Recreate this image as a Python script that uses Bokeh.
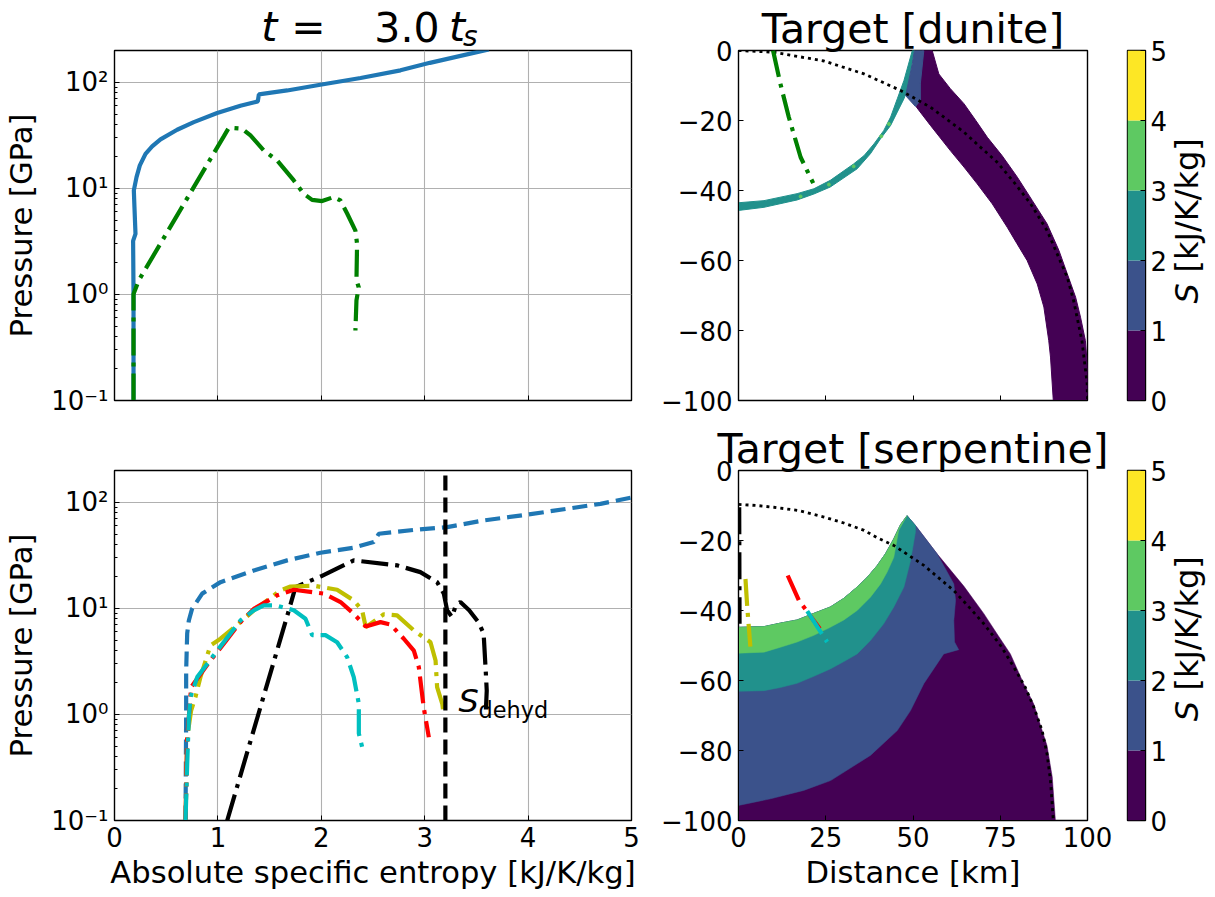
from math import pi
from bokeh.embed import file_html
from bokeh.layouts import column, row
from bokeh.models import FixedTicker, Label
from bokeh.plotting import figure
from bokeh.resources import INLINE

# entropy / pressure paths
dunite_pk_s = [0.184, 0.184, 0.18, 0.203, 0.193, 0.187, 0.213, 0.245, 0.30, 0.364, 0.445, 0.606, 0.767, 0.993, 1.218, 1.386, 1.396, 1.67, 1.99, 2.38, 2.766, 3.05, 3.62]
dunite_pk_p = [0.1, 1.01, 3.2, 3.73, 6.67, 9.6, 12.8, 16.5, 21.2, 24.9, 29, 35.8, 42.2, 51.4, 60.3, 66.2, 77, 84, 95, 110, 130, 153, 205]
dunite_tr_s = [0.184, 0.184, 0.235, 1.057, 1.106, 1.235, 1.315, 1.444, 1.573, 1.734, 1.83, 1.911, 2.008, 2.12, 2.185, 2.25, 2.33, 2.346, 2.34, 2.362, 2.34, 2.33]
dunite_tr_p = [0.1, 1.01, 1.36, 31, 37.4, 36.6, 31.6, 22.8, 18.4, 11.9, 8.9, 7.8, 7.6, 8.3, 7.7, 5.8, 4.0, 3.0, 1.36, 1.17, 0.88, 0.457]

serp_pk_s = [0.687, 0.693, 0.693, 0.703, 0.719, 0.75, 0.848, 1.025, 1.347, 1.67, 1.992, 2.314, 2.508, 2.556, 2.895, 3.217, 3.57, 3.99, 4.70, 5.0]
serp_pk_p = [0.1, 1.0, 2.6, 5.8, 7.7, 9.9, 13.8, 17.7, 22.8, 28.4, 33.5, 37.4, 42.3, 50.6, 55, 58.5, 67.6, 76.6, 97, 111]
black_s = [1.09, 1.686, 1.75, 1.992, 2.314, 2.733, 2.958, 3.12, 3.185, 3.217, 3.265, 3.3, 3.345, 3.43, 3.52, 3.57, 3.59, 3.6, 3.59]
black_p = [0.1, 9.6, 15.9, 20, 28.4, 25.5, 22, 17.7, 13.8, 9.6, 8.3, 10.7, 11.5, 9.6, 7.4, 5.8, 2.6, 1.68, 1.0]
yellow_s = [0.687, 0.703, 0.741, 0.783, 0.831, 0.928, 1.025, 1.218, 1.347, 1.605, 1.702, 1.927, 2.153, 2.314, 2.395, 2.43, 2.604, 2.733, 2.895, 3.056, 3.105, 3.12, 3.17, 3.185]
yellow_p = [0.1, 0.61, 1.09, 1.46, 2.25, 4.48, 5.18, 7.43, 9.6, 14.8, 16.1, 16.4, 15, 11.9, 9.6, 6.67, 8.8, 8.6, 6.2, 4.8, 3.23, 1.81, 1.26, 0.98]
red_s = [0.687, 0.703, 0.719, 0.741, 0.928, 1.057, 1.218, 1.347, 1.573, 1.734, 2.024, 2.186, 2.314, 2.43, 2.572, 2.669, 2.798, 2.895, 2.943, 2.99, 3.04]
red_p = [0.1, 0.61, 0.94, 1.81, 3.23, 4.64, 7.43, 9.9, 13.3, 15, 13.8, 11.5, 8.9, 6.76, 7.43, 7.06, 5.18, 4.0, 2.8, 1.17, 0.61]
cyan_s = [0.687, 0.703, 0.719, 0.735, 0.8, 0.993, 1.218, 1.347, 1.444, 1.557, 1.734, 1.847, 1.912, 2.04, 2.153, 2.25, 2.314, 2.363, 2.363, 2.41]
cyan_p = [0.1, 0.34, 0.94, 1.46, 2.25, 4, 7.7, 9.6, 10.7, 10.7, 9.6, 8, 5.6, 5.6, 4.8, 3.47, 2.25, 1.26, 0.66, 0.43]
dehyd_s = [3.2, 3.2]
dehyd_p = [0.1, 200]

# target cross sections, km
dun_purple_x = [55.5, 57.4, 60.7, 64.6, 68, 71.3, 75.5, 79.9, 84.2, 88.4, 91.8, 94.2, 96.6, 98, 99.4, 100, 100, 90.2, 89.4, 88.9, 87.5, 85.6, 82.7, 79.8, 77, 72.7, 68.4, 64.6, 60.7, 55, 51, 52.1, 52.6]
dun_purple_y = [0, -6.7, -10.9, -15.2, -20, -24.8, -30, -36.2, -42.9, -49.5, -57.1, -63.8, -70.5, -76.2, -82.9, -90.5, -100, -100, -87.6, -82.9, -73.3, -66.7, -60, -55.2, -50.5, -43.8, -38.1, -33.3, -28.6, -21.4, -16.2, -9.5, 0]
dun_blue_x = [50.4, 53.1, 52.1, 52.1, 50.7, 47.9, 49.8]
dun_blue_y = [0, 0, -9.5, -14.3, -16, -12.9, -3.8]
dun_teal_x = [0, 7.3, 16.8, 21.6, 26.3, 33, 36, 38.8, 41.6, 43.6, 45.5, 47.4, 49.8, 50.4, 48.3, 47.4, 45.5, 43.6, 40.7, 37.8, 34, 26.3, 21.6, 16.8, 7.3, 0]
dun_teal_y = [-43.5, -42.9, -40.9, -39.5, -37.1, -32.4, -30, -26.7, -22.9, -19, -13.8, -8.6, 0, 0, -11.4, -13.8, -17.6, -21.4, -25.2, -29.5, -33.8, -39, -41, -42.7, -44.8, -45.7]
dun_speck_x = [43.1, 40.9, 33, 25.9, 17.8]
dun_speck_y = [-21, -24.5, -33.1, -38.3, -41.7]
dun_rim_x = [0, 10.1, 24.5, 36, 46.4, 55, 64.6, 69.3, 74.1, 78.9, 83.7, 88.4, 91.3, 94.2, 96, 98.4, 99.9, 100]
dun_rim_y = [0, -0.5, -3, -6.7, -11.4, -16.2, -23.3, -27.6, -31.9, -37.6, -43.8, -51.4, -58.1, -64.8, -71.4, -82.9, -95.2, -100]
dun_green_x = [9.9, 12, 14.4, 17.8, 21.4]
dun_green_y = [0, -9.5, -19, -30.5, -37.9]

crater_x = [48.3, 46.4, 44.5, 42.1, 39.7, 36.9, 34, 30.2, 26.3, 21.6, 16.8, 12, 7.3, 0]
crater_y = [-12.9, -15.5, -19.5, -23.8, -27.2, -30.5, -33.3, -36.5, -39, -40.8, -42.7, -43.6, -44.6, -44.8]
outer_x = [48.3, 50.7, 56.9, 64.6, 70.3, 74.1, 77.9, 81.7, 84.6, 87, 88.4, 89.9, 90.8]
outer_y = [-12.9, -15.7, -23.8, -33.1, -40.9, -46.7, -52.4, -60.9, -66.7, -74.3, -78.6, -87.6, -100]
floor_purple_x = [0, 9.2, 18.7, 26.4, 37.8, 45.5, 49.3, 53.1, 58.8, 63.1, 61.9, 61.7, 62.2, 61.7, 56.9, 50.7]
floor_purple_y = [-95.7, -93.8, -91.4, -88.6, -81.4, -74.3, -68.6, -60.9, -52.4, -51.2, -49, -42.9, -37.1, -32.4, -23.8, -15.7]
floor_teal_x = [0, 7.3, 12, 16.8, 21.6, 26.3, 30.2, 34, 37.8, 41.6, 44.5, 47.4, 49.3, 50.7, 50.7]
floor_teal_y = [-63.1, -62.9, -62, -60.8, -58.8, -56.7, -54.6, -52.4, -48.6, -43.8, -39, -33.3, -25.7, -17.6, -15.7]
floor_green_x = [0, 7.3, 12, 16.8, 21.6, 26.3, 30.2, 34, 37.8, 40.7, 42.6, 44.5, 45.9, 48.3]
floor_green_y = [-52.2, -51.9, -50.5, -49, -47.1, -44.8, -42.7, -40, -36.2, -32.4, -29, -24.8, -17.1, -12.9]
ser_rim_x = [0, 5.3, 10.1, 17, 24.5, 30.2, 36, 39.7, 44.5, 53.1, 61.7, 66.5, 70.3, 75.1, 78.9, 82.2, 84.6, 87, 88.4, 89.4, 90.2]
ser_rim_y = [-9.7, -10, -10.5, -11.4, -13.3, -15, -17.1, -19.2, -21.4, -27.1, -34.3, -39.5, -43.8, -50, -56.2, -62, -67.6, -74.3, -81, -88.6, -100]
ser_black_x = [0.2, 0.3]
ser_black_y = [-10.5, -43.8]
ser_yellow_x = [2, 2.5, 3.4]
ser_yellow_y = [-31, -39, -50.3]
ser_red_x = [14.1, 17.3, 23.3]
ser_red_y = [-30, -37.1, -45.2]
ser_cyan_x = [19.7, 25.4]
ser_cyan_y = [-40.2, -49]

s_levels = [0, 1, 2, 3, 4, 5]
s_colors = ["#440154", "#3b528b", "#21918c", "#5ec962", "#fde725"]
x_ticks_s = [0, 1, 2, 3, 4, 5]
x_ticks_d = [0, 25, 50, 75, 100]
y_ticks_d = [-100, -80, -60, -40, -20, 0]
log_labels = {0.1: "10\u207b\u00b9", 1: "10\u2070", 10: "10\u00b9", 100: "10\u00b2"}

FONT = "DejaVu Sans"
TICK = "26px"
AXIS = "30.6px"
TITLE = 41
DASHDOT = "27 7 4 7"
DASHED = "15 7"
DOTTED = "3 4"


def style(p, ylabel=None):
    p.outline_line_color = "black"
    p.outline_line_width = 1.4
    for ax in [p.xaxis[0], p.yaxis[0]]:
        ax.axis_line_color = "black"
        ax.major_tick_in = 5
        ax.major_tick_out = 0
        ax.minor_tick_in = 3
        ax.minor_tick_out = 0
        ax.major_tick_line_color = "black"
        ax.minor_tick_line_color = "black"
        ax.major_label_text_font = FONT
        ax.major_label_text_font_size = TICK
        ax.major_label_text_color = "black"
        ax.major_label_standoff = 6
        ax.axis_label_text_font = FONT
        ax.axis_label_text_font_size = AXIS
        ax.axis_label_text_font_style = "normal"
        ax.axis_label_text_color = "black"
        ax.axis_label_standoff = 9
    p.xaxis.axis_label_standoff = 5
    p.xaxis.minor_tick_line_color = None
    if ylabel:
        p.yaxis.axis_label = ylabel


def text(p, x, y, s, size=TITLE, italic=False, angle=0):
    # the label box sits a bit under its baseline, so lift it back
    up = 0.38 * size
    p.add_layout(Label(x=x, y=y, text=s, text_font=FONT, text_font_size=f"{size}px", text_color="black",
                       text_font_style="italic" if italic else "normal", text_baseline="alphabetic",
                       angle=angle, x_offset=-up if angle else 0, y_offset=0 if angle else up))


def strip(width, height, x_range, y_range, left=0, right=0, top=0, bottom=0, **kw):
    # bare figure that only carries text, labels get clipped to the frame of their figure
    p = figure(width=width, height=height, x_range=x_range, y_range=y_range,
               x_axis_location=None, y_axis_location=None,
               min_border_left=left, min_border_right=right, min_border_top=top, min_border_bottom=bottom,
               output_backend="svg", toolbar_location=None, **kw)
    p.grid.visible = False
    p.outline_line_color = None
    p.background_fill_color = None
    p.border_fill_color = None
    return p


def blank_x(p, ticks):
    p.xaxis.major_label_overrides = {t: "" for t in ticks}
    p.xaxis.major_label_text_font_size = "1px"
    p.xaxis.major_label_standoff = 0


def pressure_fig(h, top, bottom, xlabel=None):
    p = figure(width=648, height=h, y_axis_type="log", x_range=(0, 5), y_range=(0.1, 200),
               min_border_left=114, min_border_right=17, min_border_top=top, min_border_bottom=bottom,
               frame_width=517, frame_height=350, output_backend="svg", toolbar_location=None)
    style(p, "Pressure [GPa]")
    p.xaxis.ticker = FixedTicker(ticks=x_ticks_s)
    p.yaxis.major_label_overrides = log_labels
    p.grid.grid_line_color = "#b0b0b0"
    p.grid.grid_line_width = 1.1
    p.ygrid.minor_grid_line_color = None
    if xlabel:
        p.xaxis.axis_label = xlabel
    return p


def target_fig(h, top, bottom, title, xlabel=None):
    p = figure(width=467, height=h, x_range=(0, 100), y_range=(-100, 0),
               min_border_left=90, min_border_right=28, min_border_top=top, min_border_bottom=bottom,
               frame_width=349, frame_height=350, output_backend="svg", toolbar_location=None)
    style(p)
    p.title.text = title
    p.title.align = "center"
    p.title.text_font = FONT
    p.title.text_font_size = f"{TITLE}px"
    p.title.text_font_style = "normal"
    p.title.text_color = "black"
    p.title.standoff = -4
    p.grid.visible = False
    p.xaxis.ticker = FixedTicker(ticks=x_ticks_d)
    p.yaxis.ticker = FixedTicker(ticks=y_ticks_d)
    p.yaxis.minor_tick_line_color = None
    p.yaxis.major_label_overrides = {v: str(v).replace("-", "\u2212") for v in y_ticks_d}
    if xlabel:
        p.xaxis.axis_label = xlabel
    return p


def colorbar_fig(h, top, bottom):
    p = figure(width=52, height=h, x_range=(0, 1), y_range=(0, 5), y_axis_location="right",
               min_border_left=12, min_border_right=22, min_border_top=top, min_border_bottom=bottom,
               frame_width=18, frame_height=350, output_backend="svg", toolbar_location=None)
    style(p)
    p.grid.visible = False
    p.xaxis.visible = False
    p.yaxis.ticker = FixedTicker(ticks=s_levels)
    p.yaxis.minor_tick_line_color = None
    p.yaxis.major_label_standoff = 5
    p.quad(left=0, right=1, bottom=s_levels[:-1], top=s_levels[1:], fill_color=s_colors, line_color=None)
    return p


def colorbar_label(h, top, bottom):
    # reaches back over the colorbar's tick labels, it has no fill of its own
    p = strip(56, h, (0, 56), (0, 350), top=top, bottom=bottom, margin=(0, 0, 0, -16))
    text(p, 45, 97, "S", 32, italic=True, angle=pi / 2)
    text(p, 45, 128, "[kJ/K/kg]", 32, angle=pi / 2)
    return p


# title over the top left panel, taller than its slot so the text box is not cut, p1 sits over the rest
head = strip(648, 60, (0, 5), (0, 60), left=114, right=17, margin=(0, 0, -12, 0))
text(head, 1.42, 18, "t", italic=True)
text(head, 1.71, 18, "=")
text(head, 2.513, 18, "3.0")
text(head, 3.235, 18, "t", italic=True)
text(head, 3.37, 13, "s", 28, italic=True)

# top left
p1 = pressure_fig(372, 2, 20)
blank_x(p1, x_ticks_s)
p1.line(dunite_pk_s, dunite_pk_p, color="#1f77b4", line_width=4.2)
p1.line(dunite_tr_s, dunite_tr_p, color="#008000", line_width=4.2, line_dash=DASHDOT)

# top right
p2 = target_fig(420, 50, 20, "Target [dunite]")
blank_x(p2, x_ticks_d)
p2.patch(dun_purple_x, dun_purple_y, color=s_colors[0], line_width=1)
p2.patch(dun_teal_x, dun_teal_y, color=s_colors[2], line_width=1)
p2.patch(dun_blue_x, dun_blue_y, color=s_colors[1], line_width=1)
p2.scatter(dun_speck_x, dun_speck_y, size=3, color=s_colors[3])
p2.line(dun_rim_x, dun_rim_y, color="black", line_width=2.8, line_dash=DOTTED)
p2.line(dun_green_x, dun_green_y, color="#008000", line_width=4.2, line_dash=DASHDOT)

# bottom left
p3 = pressure_fig(469, 50, 69, "Absolute specific entropy [kJ/K/kg]")
p3.line(serp_pk_s, serp_pk_p, color="#1f77b4", line_width=4.2, line_dash=DASHED)
p3.line(black_s, black_p, color="black", line_width=4.2, line_dash=DASHDOT)
p3.line(yellow_s, yellow_p, color="#bfbf00", line_width=4.2, line_dash=DASHDOT)
p3.line(red_s, red_p, color="#ff0000", line_width=4.2, line_dash=DASHDOT)
p3.line(cyan_s, cyan_p, color="#00bfbf", line_width=4.2, line_dash=DASHDOT)
p3.line(dehyd_s, dehyd_p, color="black", line_width=4.2, line_dash=DASHED)
text(p3, 3.327, 1.02, "S", 32, italic=True)
text(p3, 3.52, 0.916, "dehyd", 22.4)

# bottom right
p4 = target_fig(469, 50, 69, "Target [serpentine]", "Distance [km]")
p4.patch(outer_x[::-1] + crater_x + [0, 0], outer_y[::-1] + crater_y + [-100, -100], color=s_colors[0], line_width=0.5)
p4.patch(floor_purple_x + crater_x, floor_purple_y + crater_y, color=s_colors[1], line_width=0.5)
p4.patch(floor_teal_x + crater_x, floor_teal_y + crater_y, color=s_colors[2], line_width=0.5)
p4.patch(floor_green_x + crater_x[1:], floor_green_y + crater_y[1:], color=s_colors[3], line_width=0.5)
p4.line(ser_rim_x, ser_rim_y, color="black", line_width=2.8, line_dash=DOTTED)
p4.line(ser_black_x, ser_black_y, color="black", line_width=4.2, line_dash=DASHDOT)
p4.line(ser_yellow_x, ser_yellow_y, color="#bfbf00", line_width=4.2, line_dash=DASHDOT)
p4.line(ser_red_x, ser_red_y, color="#ff0000", line_width=4.2, line_dash=DASHDOT)
p4.line(ser_cyan_x, ser_cyan_y, color="#00bfbf", line_width=4.2, line_dash=DASHDOT)

c1 = colorbar_fig(420, 50, 20)
c2 = colorbar_fig(469, 50, 69)
l1 = colorbar_label(420, 50, 20)
l2 = colorbar_label(469, 50, 69)

page = column(row(column(head, p1), p2, c1, l1), row(p3, p4, c2, l2))
open("out.html", "w").write(file_html(page, INLINE))
